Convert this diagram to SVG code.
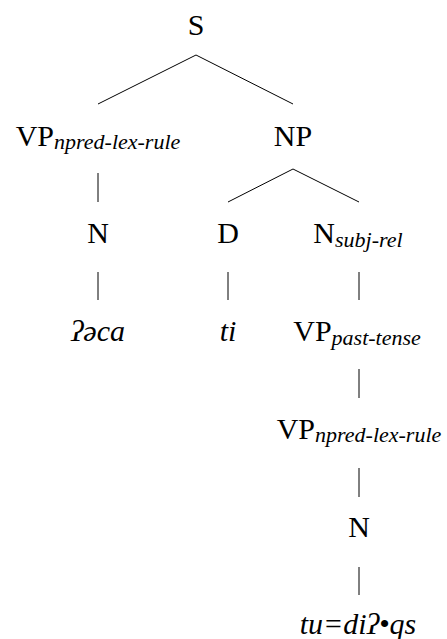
<svg xmlns="http://www.w3.org/2000/svg" width="447" height="639" viewBox="0 0 447 639">
<style>
text{font-family:"Liberation Serif","Times New Roman",serif;font-size:30px;fill:#000;text-anchor:middle}
.it{font-style:italic}
.sub{font-style:italic;font-size:22px}
line{stroke:#000;stroke-width:1}
</style>
<rect width="447" height="639" fill="#fff"/>
<g id="connectors">
<line x1="196" y1="55" x2="98" y2="104"/>
<line x1="196" y1="55" x2="293" y2="104"/>
<line x1="98" y1="173" x2="98" y2="202"/>
<line x1="293" y1="169" x2="228" y2="202"/>
<line x1="293" y1="169" x2="359" y2="202"/>
<line x1="98" y1="272" x2="98" y2="300"/>
<line x1="228" y1="272" x2="228" y2="300"/>
<line x1="359" y1="272" x2="359" y2="300"/>
<line x1="359" y1="369" x2="359" y2="398"/>
<line x1="359" y1="468" x2="359" y2="497"/>
<line x1="359" y1="567" x2="359" y2="595"/>
</g>
<g id="node-S"><text x="196" y="35">S</text></g>
<g id="node-VP1"><text x="98" y="146">VP<tspan class="sub" dy="3">npred-lex-rule</tspan></text></g>
<g id="node-NP"><text x="293" y="146">NP</text></g>
<g id="node-N1"><text x="98" y="243">N</text></g>
<g id="node-D"><text x="228" y="243">D</text></g>
<g id="node-N2"><text x="358" y="243">N<tspan class="sub" dy="4">subj-rel</tspan></text></g>
<g id="node-leaf1"><text class="it" x="98" y="341">ʔəca</text></g>
<g id="node-leaf2"><text class="it" x="228" y="341">ti</text></g>
<g id="node-VP2"><text x="357" y="341">VP<tspan class="sub" dy="4">past-tense</tspan></text></g>
<g id="node-VP3"><text x="359" y="439">VP<tspan class="sub" dy="3">npred-lex-rule</tspan></text></g>
<g id="node-N3"><text x="359" y="537">N</text></g>
<g id="node-leaf3"><text class="it" x="358" y="634">tu=diʔ•qs</text></g>
</svg>
